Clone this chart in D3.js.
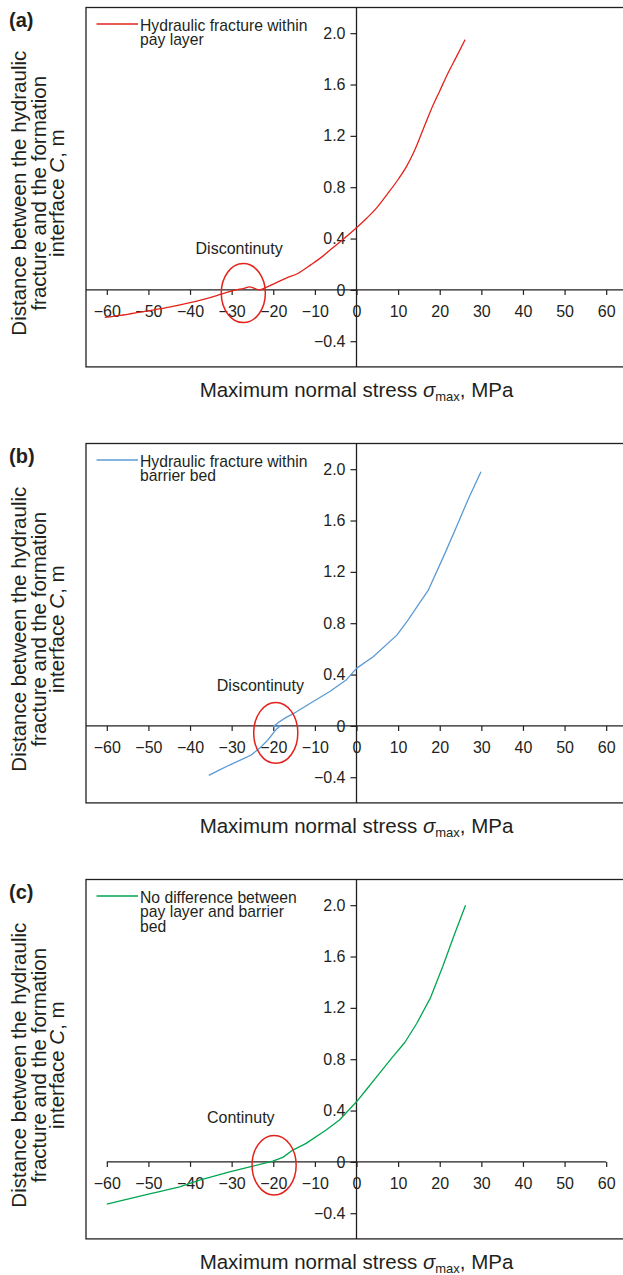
<!DOCTYPE html>
<html><head><meta charset="utf-8">
<script src="https://cdn.jsdelivr.net/npm/d3@7"></script>
<style>
body{margin:0;background:#fff}
svg{display:block}
text{font-family:"Liberation Sans",Arial,Helvetica,sans-serif;fill:#231f20}
</style>
</head><body>
<svg id="chart" width="623" height="1275"></svg>
<script>
// ---------- data ----------
const xTicks = [-60, -50, -40, -30, -20, -10, 0, 10, 20, 30, 40, 50, 60];
const yTicks = [-0.4, 0, 0.4, 0.8, 1.2, 1.6, 2.0];

// (a) Hydraulic fracture within pay layer
const payStress = [-60.5, -55, -50, -45, -40, -35, -32.5, -29, -27, -25.7, -24.5, -23.5, -22, -20, -17, -14, -11, -8, -6, -3, 0, 2.5, 5, 7.5, 10, 12, 14, 16, 18, 20, 22, 24, 26.1];
const payC      = [-0.214, -0.19, -0.163, -0.135, -0.10, -0.058, -0.033, 0.0, 0.012, 0.024, 0.012, 0.0, 0.015, 0.045, 0.09, 0.13, 0.195, 0.265, 0.32, 0.40, 0.484, 0.56, 0.645, 0.75, 0.86, 0.96, 1.09, 1.25, 1.41, 1.55, 1.69, 1.815, 1.95];

// (b) Hydraulic fracture within barrier bed
const barStress = [-35.5, -33, -30.5, -27, -25.3, -23.3, -21.3, -19.3, -18.3, -20, -18.5, -16.9, -14.9, -10.5, -6.5, -2.5, 0, 4, 9.7, 12.5, 15, 17.3, 21.2, 24, 26.9, 29.9];
const barC      = [-0.385, -0.345, -0.305, -0.253, -0.227, -0.175, -0.11, -0.027, 0.0, -0.005, 0.032, 0.066, 0.10, 0.188, 0.266, 0.357, 0.448, 0.538, 0.707, 0.83, 0.95, 1.06, 1.34, 1.55, 1.77, 1.98];

// (c) No difference between pay layer and barrier bed
const noDiffStress = [-60, -55, -50, -47.6, -42.5, -37.7, -30.5, -24.9, -20.1, -17.7, -15.3, -12.1, -7.3, -4.1, 0, 2.3, 5.5, 8.5, 11.6, 14.5, 17.8, 20.7, 23.5, 26.2];
const noDiffC      = [-0.329, -0.29, -0.252, -0.233, -0.194, -0.142, -0.077, -0.033, 0.006, 0.035, 0.092, 0.144, 0.248, 0.326, 0.468, 0.56, 0.69, 0.81, 0.93, 1.08, 1.28, 1.52, 1.77, 2.0];

const panelLabels = ["(a)", "(b)", "(c)"];
const legendTexts = [
  ["Hydraulic fracture within", "pay layer"],
  ["Hydraulic fracture within", "barrier bed"],
  ["No difference between", "pay layer and barrier", "bed"]
];
const annotationTexts = ["Discontinuty", "Discontinuty", "Continuty"];
// annotation positions in data units: [textX, textY, ellipseCx, ellipseCy, ellipseRx, ellipseRy]
const annotationPos = [
  [-28.2, 0.279, -27.2, -0.025, 5.3, 0.23],
  [-23.1, 0.275, -19.4, -0.055, 5.3, 0.237],
  [-27.8, 0.30, -19.8, -0.026, 5.3, 0.232]
];
const axisExtent = [[-65, 65], [-65, 65], [-60, 60]];
const seriesX = [payStress, barStress, noDiffStress];
const seriesY = [payC, barC, noDiffC];
const colors = ["#e3231b", "#5b9bd5", "#00a651"];
const curves = [d3.curveMonotoneX, d3.curveLinear, d3.curveLinear];

// ---------- drawing ----------
const svg = d3.select("#chart");
const ink = "#231f20";
const left = 86, plotW = 541, plotH = 359.4;
const x = d3.scaleLinear().domain([-65, 65]).range([left, left + plotW]);
const fmtX = v => v < 0 ? "\u2212" + Math.abs(v) : String(v);
const fmtY = v => v === 0 ? "0" : (v < 0 ? "\u2212" + Math.abs(v).toFixed(1) : v.toFixed(1));

for (let i = 0; i < 3; i++) {
  const top = 7.5 + i * 436;
  const y = d3.scaleLinear().domain([-0.6, 2.2]).range([top + plotH, top]);
  const g = svg.append("g");

  // frame
  g.append("rect").attr("x", left).attr("y", top).attr("width", plotW).attr("height", plotH)
    .attr("fill", "none").attr("stroke", ink).attr("stroke-width", 1.3);

  // x axis
  const xa = g.append("g").attr("transform", `translate(0,${y(0)})`)
    .call(d3.axisBottom(x).tickValues(xTicks).tickSize(5).tickPadding(10.5).tickFormat(fmtX));
  xa.select(".domain").remove();
  xa.selectAll("line").attr("stroke", ink).attr("stroke-width", 1.2);
  xa.selectAll("text").attr("font-size", 16).style("fill", ink);
  xa.attr("font-family", null);
  g.append("line").attr("x1", x(axisExtent[i][0])).attr("x2", x(axisExtent[i][1]))
    .attr("y1", y(0)).attr("y2", y(0)).attr("stroke", ink).attr("stroke-width", 1.3);

  // y axis
  const ya = g.append("g").attr("transform", `translate(${x(0)},0)`)
    .call(d3.axisLeft(y).tickValues(yTicks).tickSize(6).tickPadding(5).tickFormat(fmtY));
  ya.select(".domain").remove();
  ya.selectAll("line").attr("stroke", ink).attr("stroke-width", 1.2);
  ya.selectAll("text").attr("font-size", 16).style("fill", ink);
  ya.attr("font-family", null);
  g.append("line").attr("x1", x(0)).attr("x2", x(0)).attr("y1", top).attr("y2", top + plotH)
    .attr("stroke", ink).attr("stroke-width", 1.3);

  // series
  const pts = seriesX[i].map((v, k) => [v, seriesY[i][k]]);
  g.append("path").datum(pts)
    .attr("d", d3.line().curve(curves[i]).x(d => x(d[0])).y(d => y(d[1])))
    .attr("fill", "none").attr("stroke", colors[i]).attr("stroke-width", 1.3)
    .attr("stroke-linejoin", "round");

  // annotation
  const a = annotationPos[i];
  g.append("ellipse").attr("cx", x(a[2])).attr("cy", y(a[3]))
    .attr("rx", x(a[2] + a[4]) - x(a[2])).attr("ry", y(a[3]) - y(a[3] + a[5]))
    .attr("fill", "none").attr("stroke", "#e3231b").attr("stroke-width", 1.5);
  g.append("text").attr("x", x(a[0])).attr("y", y(a[1])).attr("text-anchor", "middle")
    .attr("font-size", 16).text(annotationTexts[i]);

  // legend
  g.append("line").attr("x1", 96.5).attr("x2", 138).attr("y1", top + 16.5).attr("y2", top + 16.5)
    .attr("stroke", colors[i]).attr("stroke-width", 1.3);
  legendTexts[i].forEach((t, k) => {
    g.append("text").attr("x", 140).attr("y", top + 23 + k * 14.5).attr("font-size", 15.7).text(t);
  });

  // panel label
  g.append("text").attr("x", 9).attr("y", top + 19).attr("font-size", 20)
    .attr("font-weight", "bold").text(panelLabels[i]);

  // x title
  const xt = g.append("text").attr("x", x(0)).attr("y", top + 389).attr("text-anchor", "middle")
    .attr("font-size", 20.5);
  xt.append("tspan").text("Maximum normal stress ");
  xt.append("tspan").attr("font-style", "italic").text("\u03c3");
  xt.append("tspan").attr("font-size", 13).attr("dy", 4).text("max");
  xt.append("tspan").attr("dy", -4).text(", MPa");

  // y title
  const cy = top + plotH / 2 + 6;
  const ytl = ["Distance between the hydraulic", "fracture and the formation"];
  const bx = [26, 45.5, 64];
  ytl.forEach((t, k) => {
    g.append("text").attr("transform", `translate(${bx[k]},${cy}) rotate(-90)`)
      .attr("text-anchor", "middle").attr("font-size", 20.5).text(t);
  });
  const l3 = g.append("text").attr("transform", `translate(${bx[2]},${cy}) rotate(-90)`)
    .attr("text-anchor", "middle").attr("font-size", 20.5);
  l3.append("tspan").text("interface ");
  l3.append("tspan").attr("font-style", "italic").text("C");
  l3.append("tspan").text(", m");
}
</script>
</body></html>
